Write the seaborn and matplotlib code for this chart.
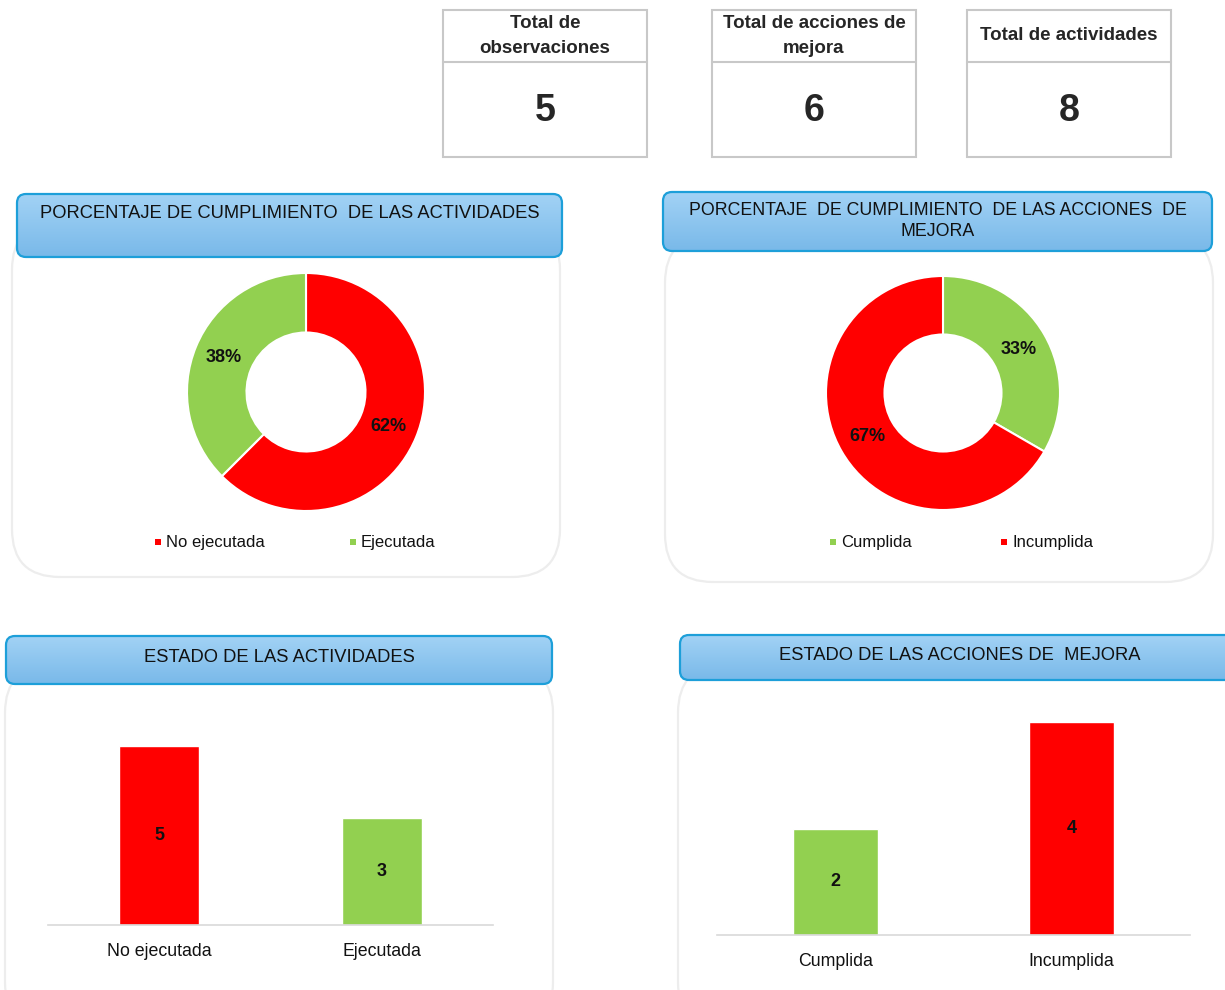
import numpy as np
import pandas as pd
import seaborn as sns
import matplotlib.pyplot as plt
from matplotlib.patches import FancyBboxPatch, Rectangle
from matplotlib.colors import LinearSegmentedColormap

# datos
totales_titulos = ["Total de\nobservaciones", "Total de acciones de\nmejora", "Total de actividades"]
totales_valores = [5, 6, 8]

actividades_cat = ["No ejecutada", "Ejecutada"]
actividades_val = [5, 3]
actividades_col = ["#FF0000", "#92D050"]

acciones_cat = ["Cumplida", "Incumplida"]
acciones_val = [2, 4]
acciones_col = ["#92D050", "#FF0000"]

sns.set_style("white")
plt.rcParams['font.family'] = ['Liberation Sans', 'DejaVu Sans']

W, H = 1225, 990
fig = plt.figure(figsize=(W / 100, H / 100), dpi=100)
fig.patch.set_facecolor("white")

# fondo en pixeles
ax_bg = fig.add_axes([0, 0, 1, 1])
ax_bg.set_axis_off()


def px_axes(x0, y0, x1, y1):
    return fig.add_axes([x0 / W, 1 - y1 / H, (x1 - x0) / W, (y1 - y0) / H])


def tarjeta(x0, y0, x1, y1):
    p = FancyBboxPatch((x0, y0), x1 - x0, y1 - y0,
                       boxstyle="round,pad=0,rounding_size=48",
                       fc="white", ec="#ededed", lw=1.6, zorder=1)
    ax_bg.add_patch(p)


cmap_azul = LinearSegmentedColormap.from_list("azul", ["#a2d2f5", "#79b9e9"])


def titulo(x0, y0, x1, y1, texto, ty, fs=13.2):
    grad = np.linspace(0, 1, 60).reshape(-1, 1)
    im = ax_bg.imshow(grad, extent=(x0, x1, y1, y0), cmap=cmap_azul,
                      aspect="auto", zorder=2)
    p = FancyBboxPatch((x0, y0), x1 - x0, y1 - y0,
                       boxstyle="round,pad=0,rounding_size=9",
                       fc="none", ec="#1d9fd9", lw=1.6, zorder=3)
    ax_bg.add_patch(p)
    im.set_clip_path(p)
    ax_bg.text((x0 + x1) / 2, ty, texto, ha="center", va="center",
               fontsize=fs, color="#111111", linespacing=1.25, zorder=4)


def leyenda(items):
    for x, y, lab, col in items:
        ax_bg.scatter([x], [y], marker="s", s=24, color=col, zorder=4, linewidths=0)
        ax_bg.text(x + 8, y, lab, ha="left", va="center", fontsize=12, color="#111111", zorder=4)


# cajas de totales
cajas_x = [443, 712, 967]
for x0, tit, val in zip(cajas_x, totales_titulos, totales_valores):
    ax_bg.add_patch(Rectangle((x0, 10), 204, 147, fc="white", ec="#c8c8c8", lw=1.5, zorder=1))
    ax_bg.plot([x0, x0 + 204], [62, 62], color="#c8c8c8", lw=1.5, zorder=2)
    ax_bg.text(x0 + 102, 36, tit, ha="center", va="center", fontsize=13.5,
               fontweight="bold", linespacing=1.6, zorder=3)
    ax_bg.text(x0 + 102, 111, str(val), ha="center", va="center", fontsize=27,
               fontweight="bold", zorder=3)

# tarjetas
tarjeta(12, 222, 560, 577)
tarjeta(665, 235, 1213, 582)
tarjeta(5, 665, 553, 1030)
tarjeta(678, 665, 1260, 1030)

titulo(17, 194, 562, 257, "PORCENTAJE DE CUMPLIMIENTO  DE LAS ACTIVIDADES", 214)
titulo(663, 192, 1212, 251, "PORCENTAJE  DE CUMPLIMIENTO  DE LAS ACCIONES  DE\nMEJORA", 221, fs=12.8)
titulo(6, 636, 552, 684, "ESTADO DE LAS ACTIVIDADES", 657)
titulo(680, 635, 1240, 680, "ESTADO DE LAS ACCIONES DE  MEJORA", 655)

leyenda([(158, 542, actividades_cat[0], actividades_col[0]),
         (353, 542, actividades_cat[1], actividades_col[1]),
         (833, 542, acciones_cat[0], acciones_col[0]),
         (1004, 542, acciones_cat[1], acciones_col[1])])

ax_bg.set_xlim(0, W)
ax_bg.set_ylim(H, 0)


def dona(ax, valores, colores):
    ax.pie(valores, colors=colores, startangle=90, counterclock=False,
           autopct=lambda p: "{:.0f}%".format(p), pctdistance=0.75,
           wedgeprops=dict(width=0.5, edgecolor="white", linewidth=1.5),
           textprops=dict(fontsize=13, fontweight="bold", color="#111111"))
    ax.set_xlim(-1, 1)
    ax.set_ylim(-1, 1)
    ax.set_axis_off()


dona(px_axes(187, 273, 425, 511), actividades_val, actividades_col)
dona(px_axes(826, 276, 1060, 510), acciones_val, acciones_col)


def barras(ax, cats, vals, cols, ymax):
    df = pd.DataFrame({"estado": cats, "n": vals})
    sns.barplot(data=df, x="estado", y="n", hue="estado", palette=cols,
                width=0.36, saturation=1, legend=False, ax=ax)
    for c in ax.containers:
        ax.bar_label(c, label_type="center", fontsize=13, fontweight="bold", color="#111111")
    ax.set_xlim(-0.5, 1.5)
    ax.set_ylim(0, ymax)
    ax.set_yticks([])
    ax.set_xlabel("")
    ax.set_ylabel("")
    for s in ["left", "top", "right"]:
        ax.spines[s].set_visible(False)
    ax.spines["bottom"].set_color("#d9d9d9")
    ax.spines["bottom"].set_linewidth(1.2)
    ax.tick_params(axis="x", length=0, pad=13, labelsize=12.8, labelcolor="#111111")
    ax.patch.set_alpha(0)


barras(px_axes(48, 700, 493, 925), actividades_cat, actividades_val, actividades_col, 225 / 35.8)
barras(px_axes(717, 700, 1190, 935), acciones_cat, acciones_val, acciones_col, 235 / 53.2)

fig.savefig("out.png", dpi=100)
